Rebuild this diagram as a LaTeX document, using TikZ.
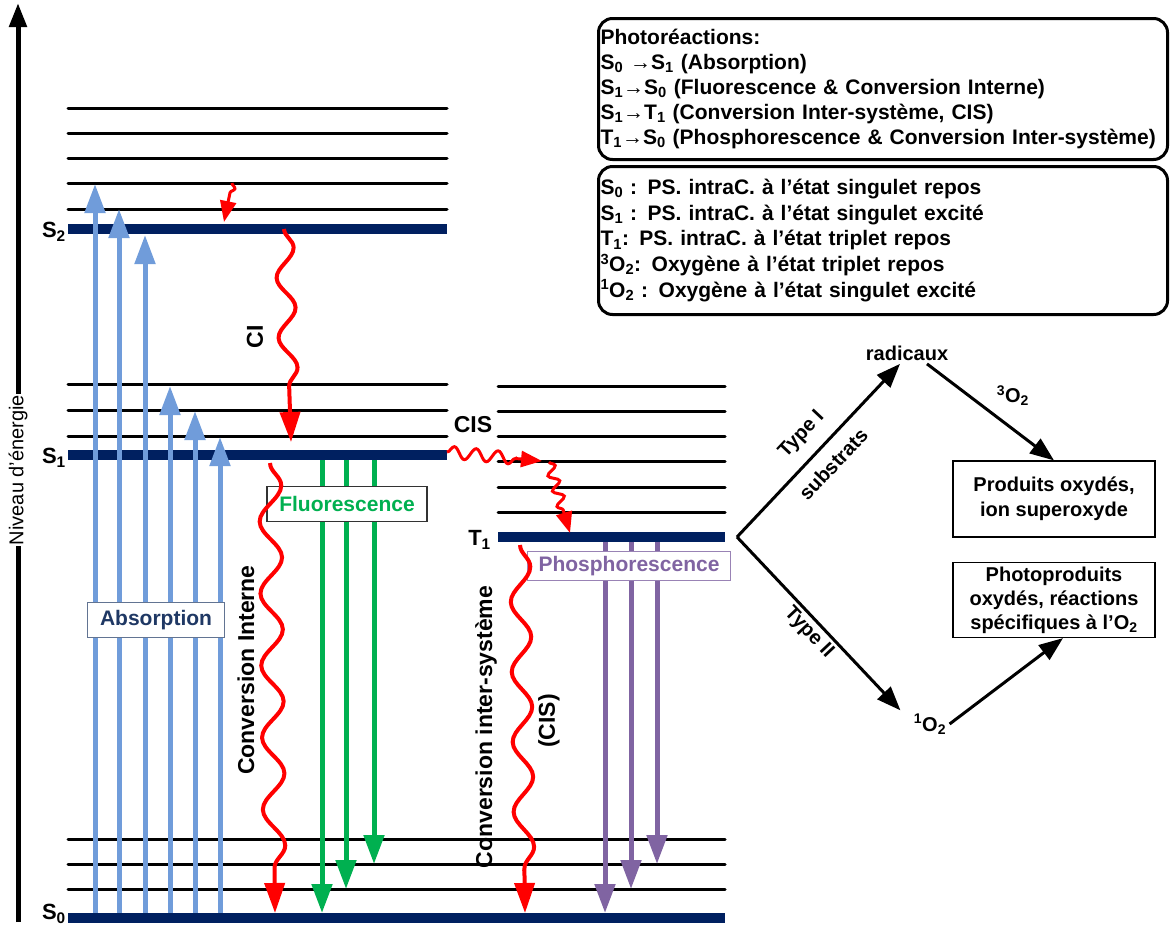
\documentclass[tikz,border=0pt]{standalone}
\usepackage{fontspec}
\setmainfont{Liberation Sans}
\usetikzlibrary{arrows.meta, decorations.pathmorphing, positioning}

\definecolor{levelnavy}{RGB}{0,32,96}
\definecolor{absblue}{RGB}{112,156,218}
\definecolor{abstext}{RGB}{31,56,100}
\definecolor{fluogreen}{RGB}{0,176,80}
\definecolor{phosviolet}{RGB}{128,100,162}

\begin{document}
\begin{tikzpicture}[
    x=1pt, y=-1pt,
    font=\fontsize{20}{25}\selectfont\bfseries,
    level/.style={line width=3pt, line cap=round},
    bar/.style={fill=levelnavy},
    state/.style={anchor=east, inner sep=1pt, font=\fontsize{22}{25}\selectfont\bfseries},
    abs_arrow/.style={absblue, line width=5pt, -{Triangle[width=20pt, length=29pt]}},
    fluo_arrow/.style={fluogreen, line width=5pt, -{Triangle[width=20pt, length=29pt]}},
    phos_arrow/.style={phosviolet, line width=5pt, -{Triangle[width=20pt, length=29pt]}},
    wavy/.style={red, line width=4pt, decorate, -{Triangle[width=20pt, length=30pt]}},
    small_wavy/.style={red, line width=3pt, decorate, -{Triangle[width=16pt, length=21pt]}},
    big_lbl/.style={font=\fontsize{23}{25}\selectfont\bfseries},
    tag/.style={fill=white, draw, line width=1.2pt, inner sep=2pt, font=\fontsize{21}{25}\selectfont\bfseries},
    infobox/.style={draw, line width=3pt, rounded corners=14pt, anchor=north west,
        align=left, text width=565pt, inner sep=2pt},
    prod_box/.style={draw, line width=1.2pt, align=center, minimum width=202pt, inner sep=2pt},
    react_arrow/.style={line width=3pt, -{Triangle[width=18pt, length=24pt]}}
]
    \useasboundingbox (0,0) rectangle (1174,927);

    % Energy axis
    \coordinate (ax_bot) at (18,922);
    \coordinate (ax_top) at (18,3);
    \draw[line width=5pt, -{Triangle[width=17pt, length=24pt]}] (ax_bot) -- (ax_top);
    \node[rotate=90, fill=white, inner sep=1pt, font=\fontsize{20}{24}\selectfont\mdseries]
        (axis_lbl) at (18,470) {Niveau d’énergie};

    % Singlet and triplet levels
    \foreach \y in {108,133,158,183,209} \draw[level] (68,\y) -- (447,\y);
    \fill[bar] (68,224) rectangle (447,234);
    \foreach \y in {384,410,436} \draw[level] (68,\y) -- (447,\y);
    \fill[bar] (68,450) rectangle (447,460);
    \foreach \y in {386,411,436,461,487,512} \draw[level] (498,\y) -- (725,\y);
    \fill[bar] (498,532) rectangle (725,542);
    \foreach \y in {839,864,889} \draw[level] (68,\y) -- (725,\y);
    \fill[bar] (68,913) rectangle (725,923);

    \node[state] (s2) at (67,232) {S\textsubscript{2}};
    \node[state] (s1) at (67,458) {S\textsubscript{1}};
    \node[state] (s0) at (67,914) {S\textsubscript{0}};
    \node[state] (t1) at (492,540) {T\textsubscript{1}};

    % Absorption
    \foreach \x/\t [count=\i] in {95/184,119/209,145/235,170/386,195/411,220/437} {
        \coordinate (abs_from\i) at (\x,913);
        \coordinate (abs_to\i) at (\x,\t);
        \draw[abs_arrow] (abs_from\i) -- (abs_to\i);
    }

    % Fluorescence and phosphorescence
    \foreach \x/\t [count=\i] in {322/913,346/889,374/864} {
        \coordinate (fluo_from\i) at (\x,460);
        \coordinate (fluo_to\i) at (\x,\t);
        \draw[fluo_arrow] (fluo_from\i) -- (fluo_to\i);
    }
    \foreach \x/\t [count=\i] in {605/913,631/889,657/864} {
        \coordinate (phos_from\i) at (\x,542);
        \coordinate (phos_to\i) at (\x,\t);
        \draw[phos_arrow] (phos_from\i) -- (phos_to\i);
    }

    \node[tag, draw=abstext!70, text=abstext, minimum width=137pt, minimum height=35pt]
        (abs_tag) at (156,620) {Absorption};
    \node[tag, draw=black!80, text=fluogreen, minimum width=160pt, minimum height=35pt]
        (fluo_tag) at (347,504) {Fluorescence};
    \node[tag, draw=phosviolet!80, text=phosviolet, minimum width=203pt, minimum height=29pt]
        (phos_tag) at (629,566) {Phosphorescence};

    % Non radiative transitions
    \coordinate (vr_from) at (232,183);
    \coordinate (vr_to) at (224,222);
    \draw[small_wavy, decoration={snake, amplitude=4pt, segment length=16pt, post length=22pt}]
        (vr_from) -- (vr_to);

    \coordinate (ci_from) at (284,229);
    \coordinate (ci_to) at (291,442);
    \draw[wavy, decoration={snake, amplitude=9pt, segment length=60pt, post length=32pt}]
        (ci_from) -- (ci_to);
    \node[big_lbl, rotate=90] (ci_lbl) at (255,337) {CI};

    \coordinate (cis_from) at (447,452);
    \coordinate (cis_mid) at (542,461);
    \coordinate (cis_next) at (549,462);
    \coordinate (cis_to) at (570,533);
    \draw[small_wavy, decoration={snake, amplitude=6pt, segment length=22pt, post length=23pt}]
        (cis_from) -- (cis_mid);
    \draw[small_wavy, decoration={snake, amplitude=5pt, segment length=16pt, post length=22pt}]
        (cis_next) -- (cis_to);
    \node[big_lbl] (cis_lbl) at (473,425) {CIS};

    \coordinate (ic_from) at (270,463);
    \coordinate (ic_to) at (275,913);
    \draw[wavy, decoration={snake, amplitude=11pt, segment length=72pt, post length=32pt}]
        (ic_from) -- (ic_to);
    \node[big_lbl, rotate=90] (ic_lbl) at (246,670) {Conversion Interne};

    \coordinate (isc_from) at (520,545);
    \coordinate (isc_to) at (525,913);
    \draw[wavy, decoration={snake, amplitude=10pt, segment length=70pt, post length=32pt}]
        (isc_from) -- (isc_to);
    \node[big_lbl, rotate=90] (isc_lbl) at (486,727) {Conversion inter-système};
    \node[big_lbl, rotate=90] (isc_abbr) at (549,721) {(CIS)};

    % Type I / Type II reactions
    \coordinate (fork) at (737,537);
    \node (rad) at (907,353) {radicaux};
    \node (o2_singlet) at (930,724) {\textsuperscript{1}O\textsubscript{2}};
    \node[prod_box, minimum height=76pt] (prod_ox) at (1054,499)
        {Produits oxydés,\\ion superoxyde};
    \node[prod_box, minimum height=75pt, font=\fontsize{20}{24}\selectfont\bfseries]
        (photoprod) at (1054,600) {Photoproduits\\oxydés, réactions\\spécifiques à l’O\textsubscript{2}};

    \draw[react_arrow] (fork) -- ([xshift=-7pt]rad.south)
        node[pos=0.5, sloped, above=9pt] {Type I}
        node[pos=0.5, sloped, below=8pt] {substrats};
    \draw[react_arrow] ([xshift=20pt]rad.south) -- (prod_ox.north)
        node[midway, above right=2pt] {\textsuperscript{3}O\textsubscript{2}};
    \draw[react_arrow] (fork) -- ([xshift=-10pt]o2_singlet.north west)
        node[pos=0.5, sloped, below] {Type II};
    \draw[react_arrow] (o2_singlet.east) -- ([xshift=9pt]photoprod.south);

    % Legend boxes
    \node[infobox, minimum height=141pt, font=\fontsize{21}{25}\selectfont\bfseries]
        (reactions) at (597,17) {%
        Photoréactions:\\
        S\textsubscript{0} →S\textsubscript{1} (Absorption)\\
        S\textsubscript{1}→S\textsubscript{0} (Fluorescence \& Conversion Interne)\\
        S\textsubscript{1}→T\textsubscript{1} (Conversion Inter-système, CIS)\\
        T\textsubscript{1}→S\textsubscript{0} (Phosphorescence \& Conversion Inter-système)};
    \node[infobox, minimum height=148pt, font=\fontsize{21}{25.7}\selectfont\bfseries]
        (states) at (597,165) {%
        S\textsubscript{0} : PS. intraC. à l’état singulet repos\\
        S\textsubscript{1} : PS. intraC. à l’état singulet excité\\
        T\textsubscript{1}: PS. intraC. à l’état triplet repos\\
        \textsuperscript{3}O\textsubscript{2}: Oxygène à l’état triplet repos\\
        \textsuperscript{1}O\textsubscript{2} : Oxygène à l’état singulet excité};

\end{tikzpicture}
\end{document}
